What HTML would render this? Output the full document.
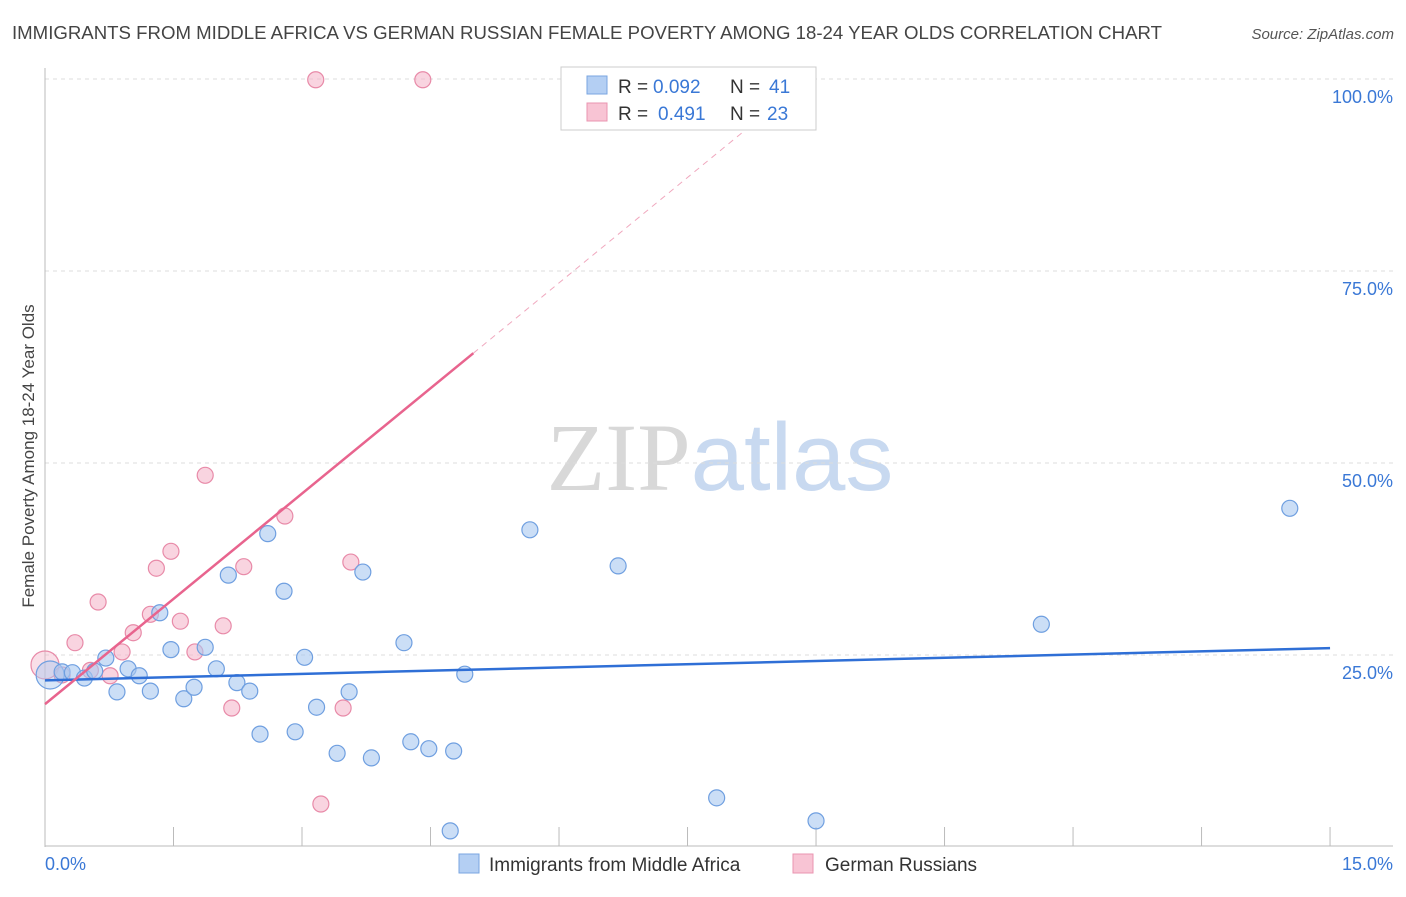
<!DOCTYPE html>
<html><head><meta charset="utf-8"><style>
body{margin:0;background:#fff;font-family:"Liberation Sans",sans-serif;}
svg text{font-family:"Liberation Sans",sans-serif;}
</style></head><body>
<svg id="chart" width="1406" height="892" xmlns="http://www.w3.org/2000/svg">
<text x="12" y="39" font-size="18" fill="#444" textLength="1150" lengthAdjust="spacingAndGlyphs">IMMIGRANTS FROM MIDDLE AFRICA VS GERMAN RUSSIAN FEMALE POVERTY AMONG 18-24 YEAR OLDS CORRELATION CHART</text>
<text x="1394" y="39" font-size="15" fill="#555" text-anchor="end" font-style="italic">Source: ZipAtlas.com</text>
<text x="720" y="490" font-size="96" text-anchor="middle"><tspan font-family="Liberation Serif,serif" fill="#d8d8d8">ZIP</tspan><tspan fill="#c8d9f0">atlas</tspan></text>
<text transform="translate(34,456) rotate(-90)" font-size="17" fill="#444" text-anchor="middle">Female Poverty Among 18-24 Year Olds</text>
<g id="grid"></g><g id="marks"></g>
<g>
<rect x="561" y="67" width="255" height="63" fill="#fff" stroke="#ccc"/>
<rect x="587" y="76" width="20" height="18" fill="#b4cff3" stroke="#7aa6e0"/>
<rect x="587" y="103" width="20" height="18" fill="#f8c4d4" stroke="#ea94b0"/>
<text x="618" y="93" font-size="19" fill="#333">R =</text>
<text x="653" y="93" font-size="19" fill="#3a78d6">0.092</text>
<text x="730" y="93" font-size="19" fill="#333">N =</text>
<text x="769" y="93" font-size="19" fill="#3a78d6">41</text>
<text x="618" y="120" font-size="19" fill="#333">R =</text>
<text x="658" y="120" font-size="19" fill="#3a78d6">0.491</text>
<text x="730" y="120" font-size="19" fill="#333">N =</text>
<text x="767" y="120" font-size="19" fill="#3a78d6">23</text>
</g>
<g>
<rect x="459" y="854" width="20" height="19" fill="#b4cff3" stroke="#7aa6e0"/>
<text x="489" y="871" font-size="19" fill="#333">Immigrants from Middle Africa</text>
<rect x="793" y="854" width="20" height="19" fill="#f8c4d4" stroke="#ea94b0"/>
<text x="825" y="871" font-size="19" fill="#333">German Russians</text>
</g>
</svg>
<script>
const blueX=[0.06,0.2,0.32,0.46,0.58,0.71,0.84,0.97,1.10,1.23,1.34,1.47,1.62,1.74,1.87,2.00,2.14,2.24,2.39,2.51,2.60,2.79,2.92,3.03,3.17,3.41,3.55,3.71,3.81,4.19,4.27,4.48,4.73,4.77,4.90,5.66,6.69,7.84,9.00,11.63,14.53];
const blueY=[22.4,22.8,22.7,22.0,22.9,24.6,20.2,23.2,22.3,20.3,30.5,25.7,19.3,20.8,26.0,23.2,35.4,21.4,20.3,14.7,40.8,33.3,15.0,24.7,18.2,12.2,20.2,35.8,11.6,26.6,13.7,12.8,2.1,12.5,22.5,41.3,36.6,6.4,3.4,29.0,44.1];
const pinkX=[0.0,0.2,0.35,0.62,0.76,0.90,1.03,1.23,1.30,1.47,1.58,1.75,1.87,2.08,2.18,2.32,2.80,3.16,3.22,3.48,3.57,4.41,0.53];
const pinkY=[23.7,22.4,26.6,31.9,22.3,25.4,27.9,30.3,36.3,38.5,29.4,25.4,48.4,28.8,18.1,36.5,43.1,99.9,5.6,18.1,37.1,99.9,23.0];
const blueTrend=[[0,21.7],[15,25.9]];
const pinkTrend=[[0,18.6],[5,64.3]];
const pinkDash=[[5,64.3],[8.3,94.5]];
const yTicks=[100,75,50,25];
const yTickLabels=["100.0%","75.0%","50.0%","25.0%"];
const xTicks=[0,1.5,3,4.5,6,7.5,9,10.5,12,13.5,15];

const NS="http://www.w3.org/2000/svg";
const sx=v=>45+v*85.67, sy=v=>847-v*7.68;
function mk(tag,attrs,parent){const e=document.createElementNS(NS,tag);for(const k in attrs)e.setAttribute(k,attrs[k]);parent.appendChild(e);return e;}
const grid=document.getElementById('grid'), marks=document.getElementById('marks');
yTicks.forEach((t,i)=>{
 const l=mk('line',{x1:45,x2:1393,y1:sy(t),y2:sy(t),stroke:'#ddd','stroke-dasharray':'4,4'},grid);
 
 
 const tx=mk('text',{x:1393,y:sy(t)+24,'font-size':18,fill:'#3a78d6','text-anchor':'end'},grid);
 tx.textContent=yTickLabels[i];
 
 
});
const ax=mk('line',{x1:45,x2:45,y1:68,y2:847,stroke:'#bbb'},grid);


const bx=mk('line',{x1:45,x2:1393,y1:846,y2:846,stroke:'#bbb'},grid);


xTicks.forEach(t=>{
 const l=mk('line',{x1:sx(t),x2:sx(t),y1:827,y2:846,stroke:'#bbb'},grid);
 
 
});
const xl0=mk('text',{x:45,y:870,'font-size':18,fill:'#3a78d6'},grid);xl0.textContent=xTicks[0].toFixed(1)+'%';


const xl1=mk('text',{x:1393,y:870,'font-size':18,fill:'#3a78d6','text-anchor':'end'},grid);xl1.textContent=xTicks[xTicks.length-1].toFixed(1)+'%';



function dots(X,Y,fill,stroke,name){
 X.forEach((x,i)=>{
  const big=(i===0);
  const c=mk('circle',{cx:sx(x),cy:sy(Y[i]),r:big?14:8,fill:fill,'fill-opacity':big?0.45:0.6,stroke:stroke,'stroke-width':1.2},marks);
  
  
 });
}
dots(pinkX,pinkY,'#f5b8cb','#e88aa8','german-russian-point');
dots(blueX,blueY,'#a9c8f0','#6f9fe0','middle-africa-point');
const bt=mk('line',{x1:sx(blueTrend[0][0]),y1:sy(blueTrend[0][1]),x2:sx(blueTrend[1][0]),y2:sy(blueTrend[1][1]),stroke:'#2f6fd6','stroke-width':2.5},marks);


const pt=mk('line',{x1:sx(pinkTrend[0][0]),y1:sy(pinkTrend[0][1]),x2:sx(pinkTrend[1][0]),y2:sy(pinkTrend[1][1]),stroke:'#e8648e','stroke-width':2.5},marks);


const pd=mk('line',{x1:sx(pinkDash[0][0]),y1:sy(pinkDash[0][1]),x2:sx(pinkDash[1][0]),y2:sy(pinkDash[1][1]),stroke:'#f0a8be','stroke-width':1,'stroke-dasharray':'6,5'},marks);


</script>
</body></html>
